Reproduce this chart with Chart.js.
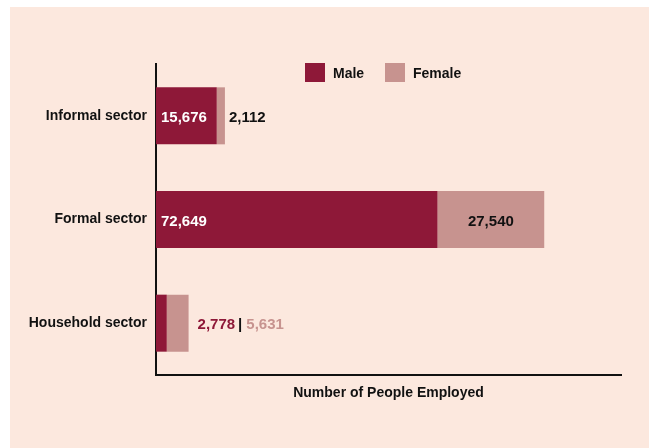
<!DOCTYPE html>
<html>
<head>
<meta charset="utf-8">
<script src="https://cdn.jsdelivr.net/npm/chart.js@4"></script>
<style>
  html, body { margin: 0; padding: 0; background: #ffffff; }
  #panel { position: absolute; left: 10px; top: 7px; width: 639px; height: 441px; background: #fce8de; }
  canvas { display: block; }
</style>
</head>
<body>
<div id="panel"><canvas id="c" width="639" height="441"></canvas></div>
<script>
const categories = ['Informal sector', 'Formal sector', 'Household sector'];
const maleValues = [15676, 72649, 2778];
const femaleValues = [2112, 27540, 5631];
const seriesNames = ['Male', 'Female'];
const axisTitle = 'Number of People Employed';
const xMax = 120000;

const MALE = '#8e1838';
const FEMALE = '#c7938f';
const FONT = '"Liberation Sans", Arial, sans-serif';
const fmt = v => v.toLocaleString('en-US');

const legendPlugin = {
  id: 'customLegend',
  afterDraw(chart) {
    const ctx = chart.ctx, a = chart.chartArea;
    const items = [
      { x: a.left + 149, label: chart.data.datasets[0].label, color: chart.data.datasets[0].backgroundColor },
      { x: a.left + 229, label: chart.data.datasets[1].label, color: chart.data.datasets[1].backgroundColor }
    ];
    ctx.save();
    ctx.font = 'bold 14px ' + FONT;
    ctx.textBaseline = 'middle';
    ctx.textAlign = 'left';
    items.forEach(it => {
      ctx.fillStyle = it.color;
      ctx.fillRect(it.x, a.top - 1, 20, 19);
      ctx.fillStyle = '#111';
      ctx.fillText(it.label, it.x + 28, a.top + 10);
    });
    ctx.restore();
  }
};

const labelPlugin = {
  id: 'barLabels',
  afterDatasetsDraw(chart) {
    const ctx = chart.ctx;
    const mMeta = chart.getDatasetMeta(0), fMeta = chart.getDatasetMeta(1);
    ctx.save();
    ctx.font = 'bold 15px ' + FONT;
    ctx.textBaseline = 'middle';
    categories.forEach((c, i) => {
      const m = mMeta.data[i], f = fMeta.data[i];
      const mText = fmt(maleValues[i]), fText = fmt(femaleValues[i]);
      const mW = m.x - m.base, fW = f.x - f.base;
      const y = m.y + 2;
      if (mW > ctx.measureText(mText).width + 10) {
        ctx.fillStyle = '#ffffff';
        ctx.textAlign = 'left';
        ctx.fillText(mText, m.base + 5, y);
        ctx.fillStyle = '#111';
        if (fW > ctx.measureText(fText).width + 12) {
          ctx.textAlign = 'center';
          ctx.fillText(fText, (f.base + f.x) / 2, y);
        } else {
          ctx.textAlign = 'left';
          ctx.fillText(fText, f.x + 4, y);
        }
      } else {
        let x = f.x + 9;
        ctx.textAlign = 'left';
        ctx.fillStyle = MALE;
        ctx.fillText(mText, x, y);
        x += ctx.measureText(mText).width + 3;
        ctx.fillStyle = '#111';
        ctx.fillText('|', x, y);
        x += ctx.measureText('|').width + 4;
        ctx.fillStyle = FEMALE;
        ctx.fillText(fText, x, y);
      }
    });
    ctx.restore();
  }
};

new Chart(document.getElementById('c'), {
  type: 'bar',
  data: {
    labels: categories,
    datasets: [
      { label: seriesNames[0], data: maleValues, backgroundColor: MALE, categoryPercentage: 1, barPercentage: 0.55 },
      { label: seriesNames[1], data: femaleValues, backgroundColor: FEMALE, categoryPercentage: 1, barPercentage: 0.55 }
    ]
  },
  options: {
    indexAxis: 'y',
    responsive: false,
    animation: false,
    layout: { padding: { top: 57, right: 28, left: 0, bottom: 0 } },
    plugins: { legend: { display: false }, tooltip: { enabled: false } },
    scales: {
      x: {
        stacked: true, min: 0, max: xMax,
        grid: { display: false, drawTicks: false },
        border: { display: true, color: '#111', width: 2 },
        ticks: { display: false },
        title: { display: true, text: axisTitle, color: '#111', font: { family: FONT, size: 14, weight: 'bold' }, padding: { top: 0, bottom: 46 } },
        afterFit(s) { s.height = 73; }
      },
      y: {
        stacked: true,
        grid: { display: false, drawTicks: false },
        border: { display: true, color: '#111', width: 2 },
        ticks: { color: '#111', padding: 9, font: { family: FONT, size: 14, weight: 'bold', lineHeight: 1.5 } },
        afterFit(s) { s.width = 146; }
      }
    }
  },
  plugins: [legendPlugin, labelPlugin]
});
</script>
</body>
</html>
